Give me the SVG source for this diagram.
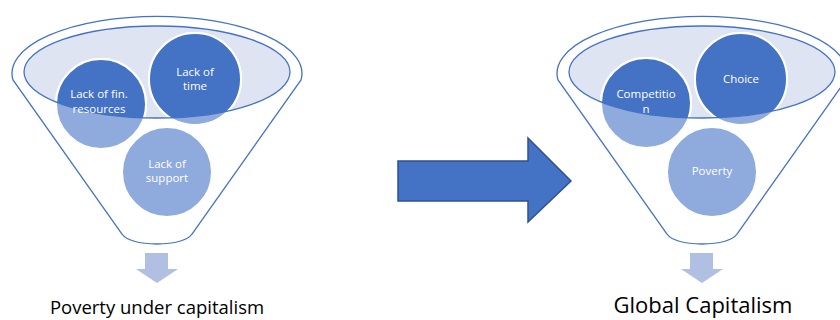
<svg xmlns="http://www.w3.org/2000/svg" width="840" height="320" viewBox="0 0 840 320">
<defs>
<style>
.funnel{fill:#ffffff;stroke:#4472c4;stroke-width:1.3}
.rim{fill:#dfe4f2}
.rimline{fill:none;stroke:#4472c4;stroke-width:1.3}
.cl{fill:#8faadc;stroke:#ffffff;stroke-width:2}
.cd{fill:#4472c4;stroke:#ffffff;stroke-width:2}
.ct{font-family:"Open Sans","Noto Sans",sans-serif;font-size:11.5px;fill:#ffffff;text-anchor:middle}
.lbl{font-family:"Open Sans","Noto Sans",sans-serif;fill:#000000;text-anchor:middle}
.down{fill:#b1bfe2}
.big{fill:#4472c4;stroke:#2f528f;stroke-width:1.5}
</style>
<path id="funnelShape" d="M 13,80 A 145 57 0 1 1 301,80 L 192,234 C 188,240 175,244 157,244 C 139,244 126,240 122,234 Z"/>
<clipPath id="clipL"><ellipse cx="157" cy="72" rx="133" ry="46"/></clipPath>
<clipPath id="clipR"><ellipse cx="702" cy="72" rx="133" ry="46"/></clipPath>
</defs>

<g id="funnel-left">
<use href="#funnelShape" class="funnel"/>
<ellipse class="rim" cx="157" cy="72" rx="133" ry="46"/>
</g>
<g id="node-lack-fin">
<circle class="cl" cx="101" cy="104" r="45"/>
<circle class="cd" cx="101" cy="104" r="45" clip-path="url(#clipL)"/>
</g>
<g id="node-lack-time">
<circle class="cl" cx="195" cy="79" r="46"/>
<circle class="cd" cx="195" cy="79" r="46" clip-path="url(#clipL)"/>
</g>
<g id="node-lack-support">
<circle class="cl" cx="167" cy="172" r="45"/>
</g>
<ellipse class="rimline" cx="157" cy="72" rx="133" ry="46"/>
<g id="labels-left">
<text class="ct" x="99" y="98">Lack of fin.</text>
<text class="ct" x="99" y="113">resources</text>
<text class="ct" x="195" y="76">Lack of</text>
<text class="ct" x="195" y="90">time</text>
<text class="ct" x="167" y="168">Lack of</text>
<text class="ct" x="167" y="182">support</text>
</g>

<g id="funnel-right">
<use href="#funnelShape" class="funnel" transform="translate(545,0)"/>
<ellipse class="rim" cx="702" cy="72" rx="133" ry="46"/>
</g>
<g id="node-competition">
<circle class="cl" cx="646" cy="103" r="45"/>
<circle class="cd" cx="646" cy="103" r="45" clip-path="url(#clipR)"/>
</g>
<g id="node-choice">
<circle class="cl" cx="741" cy="79" r="46"/>
<circle class="cd" cx="741" cy="79" r="46" clip-path="url(#clipR)"/>
</g>
<g id="node-poverty">
<circle class="cl" cx="712" cy="172" r="45"/>
</g>
<ellipse class="rimline" cx="702" cy="72" rx="133" ry="46"/>
<g id="labels-right">
<text class="ct" x="646" y="98">Competitio</text>
<text class="ct" x="646" y="113">n</text>
<text class="ct" x="741" y="83">Choice</text>
<text class="ct" x="712" y="175">Poverty</text>
</g>

<g id="connectors">
<path class="down" d="M 145,253 H 168 V 269 H 178 L 157,283 L 136,269 H 145 Z"/>
<path class="down" d="M 690,253 H 713 V 269 H 723 L 702,283 L 681,269 H 690 Z"/>
<path class="big" d="M 398,161 H 528 V 138 L 571,181 L 528,222 V 201 H 398 Z"/>
</g>

<g id="node-poverty-under-capitalism">
<text class="lbl" x="157" y="314" font-size="18.5">Poverty under capitalism</text>
</g>
<g id="node-global-capitalism">
<text class="lbl" x="703" y="313" font-size="22">Global Capitalism</text>
</g>
</svg>
